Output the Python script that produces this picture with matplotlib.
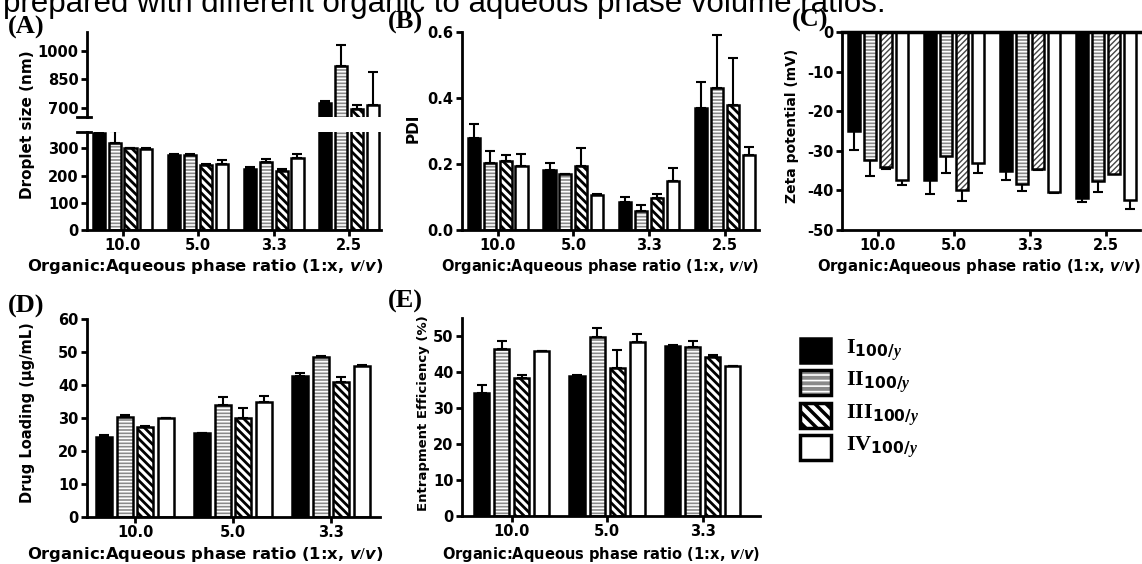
import numpy as np
import matplotlib.pyplot as plt
from matplotlib.patches import Rectangle

plt.rcParams['font.family'] = 'DejaVu Sans'
plt.rcParams['font.weight'] = 'bold'
plt.rcParams['axes.unicode_minus'] = False
plt.rcParams['mathtext.fontset'] = 'custom'
plt.rcParams['mathtext.rm'] = 'Liberation Serif:bold'
plt.rcParams['mathtext.sf'] = 'DejaVu Sans:bold'
plt.rcParams['mathtext.it'] = 'DejaVu Sans:bold:italic'
plt.rcParams['mathtext.bf'] = 'Liberation Serif:bold:italic'

W, H = 1142, 564

ratios4 = ['10.0', '5.0', '3.3', '2.5']
ratios3 = ['10.0', '5.0', '3.3']
series = ['I', 'II', 'III', 'IV']

# rows: I, II, III, IV ; columns: ratio groups
size_mean = [[355, 275, 225, 725], [318, 275, 250, 921], [300, 240, 218, 690], [297, 242, 265, 715]]
size_err = [[10, 3, 5, 12], [45, 4, 12, 111], [3, 2, 5, 25], [5, 15, 15, 172]]

pdi_mean = [[0.28, 0.183, 0.085, 0.37], [0.203, 0.171, 0.057, 0.43], [0.208, 0.195, 0.098, 0.38], [0.195, 0.105, 0.148, 0.228]]
pdi_err = [[0.04, 0.02, 0.015, 0.08], [0.037, 0.0, 0.02, 0.16], [0.02, 0.055, 0.012, 0.14], [0.036, 0.004, 0.04, 0.025]]

zeta_mean = [[-25.1, -37.3, -35.1, -41.8], [-32.4, -31.3, -38.5, -37.6], [-34.1, -39.9, -34.5, -35.9], [-37.3, -33.2, -40.4, -42.5]]
zeta_err = [[4.6, 3.7, 2.3, 1.1], [4.0, 4.2, 1.7, 2.9], [0.5, 2.8, 0.3, 0.0], [1.4, 2.5, 0.2, 2.1]]

dl_mean = [[24.3, 25.5, 42.7], [30.3, 33.8, 48.6], [27.2, 30.0, 40.8], [29.9, 34.7, 45.9]]
dl_err = [[0.6, 0.0, 1.0], [0.5, 2.6, 0.3], [0.5, 3.1, 1.5], [0.2, 2.1, 0.2]]

ee_mean = [[34.2, 39.0, 47.3], [46.5, 49.7, 47.0], [38.3, 41.2, 44.3], [45.8, 48.3, 41.6]]
ee_err = [[2.2, 0.3, 0.3], [2.0, 2.6, 1.7], [0.8, 5.0, 0.3], [0.0, 2.3, 0.0]]

STEP = 0.21
WIDTH = 0.16
LW = 1.8
TICK_FS = 10.5


def box(l, t, r, b):
    return [l / W, 1 - b / H, (r - l) / W, (b - t) / H]


def set_hlw(patches, lw):
    for p in patches:
        if hasattr(p, 'set_hatch_linewidth'):
            p.set_hatch_linewidth(lw)


def draw_bars(ax, means, errs, neg=False, dense=False):
    n = len(means[0])
    x = np.arange(n)
    for j in range(4):
        xj = x + (j - 1.5) * STEP
        m = np.array(means[j])
        e = np.array(errs[j])
        z = np.zeros(n)
        yerr = [e, z] if neg else [z, e]
        ax.errorbar(xj, m, yerr=yerr, fmt='none', ecolor='black', elinewidth=1.5,
                    capsize=3.5, capthick=1.5, zorder=1)
        if j == 0:
            ax.bar(xj, m, WIDTH, color='black', edgecolor='black', linewidth=LW, zorder=2)
        elif j == 1:
            b = ax.bar(xj, m, WIDTH, color='#8a8a8a', edgecolor='white', hatch='-----',
                       linewidth=0, zorder=2)
            set_hlw(b, 1.2)
            ax.bar(xj, m, WIDTH, fill=False, edgecolor='black', linewidth=LW, zorder=3)
        elif j == 2:
            if dense:
                b = ax.bar(xj, m, WIDTH, color='white', edgecolor='#444444', hatch='//////',
                           linewidth=0, zorder=2)
                set_hlw(b, 1.0)
            else:
                b = ax.bar(xj, m, WIDTH, color='white', edgecolor='black', hatch='\\\\\\\\',
                           linewidth=0, zorder=2)
                set_hlw(b, 2.0)
            ax.bar(xj, m, WIDTH, fill=False, edgecolor='black', linewidth=LW, zorder=3)
        else:
            ax.bar(xj, m, WIDTH, color='white', edgecolor='black', linewidth=LW, zorder=2)


def style(ax, labels):
    for s in ['top', 'right']:
        ax.spines[s].set_visible(False)
    for s in ['left', 'bottom']:
        ax.spines[s].set_linewidth(2.0)
    ax.tick_params(axis='both', width=2.0, length=4, labelsize=TICK_FS, pad=2)
    ax.set_xticks(np.arange(len(labels)))
    ax.set_xticklabels(labels)
    for t in ax.get_xticklabels() + ax.get_yticklabels():
        t.set_fontweight('bold')


fig = plt.figure(figsize=(W / 100, H / 100), dpi=100)

xlab = r'Organic:Aqueous phase ratio (1:x, $\mathit{v/v}$)'

# (A) broken axis
axA_lo = fig.add_axes(box(87, 132, 381, 230))
axA_hi = fig.add_axes(box(87, 32, 381, 117))
for ax in (axA_lo, axA_hi):
    draw_bars(ax, size_mean, size_err)
    style(ax, ratios4)
    ax.set_xlim(-0.47, 3.42)
axA_lo.set_ylim(0, 360)
axA_lo.set_yticks([0, 100, 200, 300])
axA_hi.set_ylim(650, 1100)
axA_hi.set_yticks([700, 850, 1000])
axA_hi.spines['bottom'].set_visible(False)
axA_hi.tick_params(axis='x', bottom=False, labelbottom=False)
for ax, yy in ((axA_hi, 0), (axA_lo, 1)):
    ax.plot([-0.035, 0.012], [yy, yy], transform=ax.transAxes, color='black',
            lw=2.0, clip_on=False, zorder=5)

# (B)
axB = fig.add_axes(box(462, 32, 759, 230))
draw_bars(axB, pdi_mean, pdi_err)
style(axB, ratios4)
axB.set_xlim(-0.47, 3.45)
axB.set_ylim(0, 0.6)
axB.set_yticks([0.0, 0.2, 0.4, 0.6])
axB.set_yticklabels(['0.0', '0.2', '0.4', '0.6'])

# (C)
axC = fig.add_axes(box(842, 32, 1140, 230))
draw_bars(axC, zeta_mean, zeta_err, neg=True, dense=True)
style(axC, ratios4)
axC.spines['top'].set_visible(True)
axC.spines['top'].set_linewidth(2.5)
axC.set_xlim(-0.47, 3.45)
axC.set_ylim(-50, 0)
axC.set_yticks([0, -10, -20, -30, -40, -50])

# (D)
axD = fig.add_axes(box(87, 319, 380, 517))
draw_bars(axD, dl_mean, dl_err)
style(axD, ratios3)
axD.set_xlim(-0.49, 2.5)
axD.set_ylim(0, 60)
axD.set_yticks(range(0, 61, 10))

# (E)
axE = fig.add_axes(box(462, 318, 760, 516))
draw_bars(axE, ee_mean, ee_err)
style(axE, ratios3)
axE.set_xlim(-0.52, 2.6)
axE.set_ylim(0, 55)
axE.set_yticks(range(0, 51, 10))


def ftext(x, y, s, **kw):
    fig.text(x / W, 1 - y / H, s, **kw)


# axis titles
ftext(28, 125, 'Droplet size (nm)', rotation=90, ha='center', va='center', fontsize=11)
ftext(413, 128, 'PDI', rotation=90, ha='center', va='center', fontsize=11)
ftext(792, 126, 'Zeta potential (mV)', rotation=90, ha='center', va='center', fontsize=10)
ftext(28, 413, 'Drug Loading (μg/mL)', rotation=90, ha='center', va='center', fontsize=10.5)
ftext(423, 413, 'Entrapment Efficiency (%)', rotation=90, ha='center', va='center', fontsize=9.5)

ftext(205, 266, xlab, ha='center', va='center', fontsize=11.8)
ftext(600, 267, xlab, ha='center', va='center', fontsize=10.5)
ftext(979, 266, xlab, ha='center', va='center', fontsize=10.7)
ftext(205, 554, xlab, ha='center', va='center', fontsize=11.8)
ftext(601, 554, xlab, ha='center', va='center', fontsize=10.5)

# panel letters
for lab, x, y in (('(A)', 8, 27), ('(B)', 388, 22), ('(C)', 792, 20), ('(D)', 8, 306), ('(E)', 388, 301)):
    ftext(x, y, lab, ha='left', va='center', fontsize=19, family='Liberation Serif', weight='bold')

# cut-off caption line at the top
ftext(3, 12, 'prepared with different organic to aqueous phase volume ratios.',
      ha='left', va='baseline', fontsize=22.5, weight='normal', family='Liberation Sans')

# legend
axL = fig.add_axes(box(790, 330, 1000, 470))
axL.set_xlim(790, 1000)
axL.set_ylim(470, 330)
axL.axis('off')
rows = [338, 370, 403, 435]
for j, (name, y0) in enumerate(zip(series, rows)):
    if j == 0:
        axL.add_patch(Rectangle((800, y0), 31, 25, facecolor='black', edgecolor='black', lw=LW))
    elif j == 1:
        r = Rectangle((800, y0), 31, 25, facecolor='#8a8a8a', edgecolor='white', hatch='---', lw=0)
        set_hlw([r], 1.2)
        axL.add_patch(r)
        axL.add_patch(Rectangle((800, y0), 31, 25, fill=False, edgecolor='black', lw=2.5))
    elif j == 2:
        r = Rectangle((800, y0), 31, 25, facecolor='white', edgecolor='black', hatch='\\\\\\', lw=0)
        set_hlw([r], 2.5)
        axL.add_patch(r)
        axL.add_patch(Rectangle((800, y0), 31, 25, fill=False, edgecolor='black', lw=2.5))
    else:
        axL.add_patch(Rectangle((800, y0), 31, 25, facecolor='white', edgecolor='black', lw=2.5))
    axL.text(846, y0 + 13, r'$\mathrm{' + name + r'}_{\mathsf{100/}\mathbf{y}}$',
             ha='left', va='center', fontsize=16)

fig.savefig('out.png', dpi=100)
